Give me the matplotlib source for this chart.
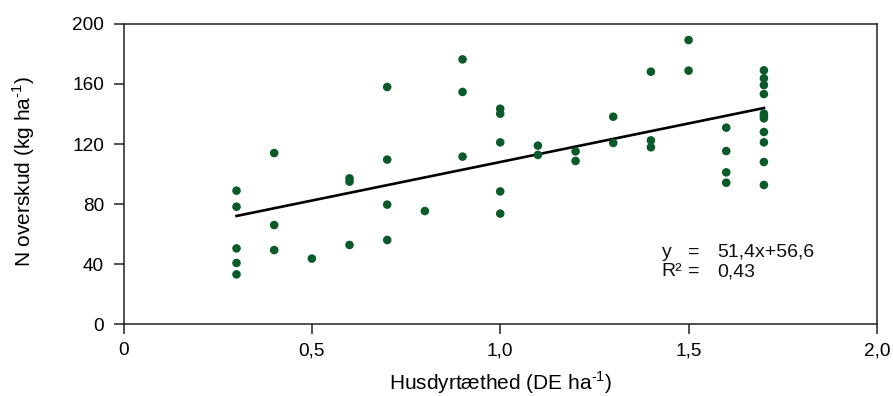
import matplotlib
matplotlib.use("Agg")
import matplotlib.pyplot as plt
import numpy as np

plt.rcParams["font.family"] = ["Liberation Sans", "DejaVu Sans"]
plt.rcParams["mathtext.fontset"] = "custom"
plt.rcParams["mathtext.rm"] = "Liberation Sans"
plt.rcParams["mathtext.sf"] = "Liberation Sans"

# Livestock density (DE/ha) and N surplus (kg/ha) per farm
density = [0.3, 0.3, 0.3, 0.3, 0.3,
           0.4, 0.4, 0.4,
           0.5,
           0.6, 0.6, 0.6,
           0.7, 0.7, 0.7, 0.7,
           0.8,
           0.9, 0.9, 0.9,
           1.0, 1.0, 1.0, 1.0, 1.0,
           1.1, 1.1,
           1.2, 1.2,
           1.3, 1.3,
           1.4, 1.4, 1.4,
           1.5, 1.5,
           1.6, 1.6, 1.6, 1.6,
           1.7, 1.7, 1.7, 1.7, 1.7, 1.7, 1.7, 1.7, 1.7, 1.7, 1.7]
surplus = [88.9, 78.2, 50.4, 40.7, 33.1,
           114.0, 66.0, 49.3,
           43.6,
           97.1, 94.9, 52.7,
           158.0, 109.6, 79.6, 56.0,
           75.3,
           176.4, 154.7, 111.6,
           143.5, 140.2, 121.1, 88.4, 73.6,
           118.9, 112.7,
           115.1, 108.7,
           138.2, 120.7,
           168.2, 122.4, 117.8,
           189.3, 168.9,
           130.9, 115.3, 101.1, 94.2,
           169.1, 163.8, 159.3, 153.3, 140.2, 138.6, 137.1, 128.0, 121.1, 108.0, 92.7]

# Fitted regression y = 51,4x + 56,6 (R² = 0,43)
slope = 51.4
intercept = 56.6
r_squared = "0,43"

x_ticks = [0, 0.5, 1.0, 1.5, 2.0]
x_labels = ["0", "0,5", "1,0", "1,5", "2,0"]
y_ticks = [0, 40, 80, 120, 160, 200]

fig = plt.figure(figsize=(8.93, 3.96), dpi=100)
ax = fig.add_axes([0.1383, 0.1818, 0.8437, 0.7576])

ax.scatter(density, surplus, s=38, color="#0a5a2a", edgecolors="none", zorder=3)

fit_x = np.array([min(density), max(density)])
ax.plot(fit_x, slope * fit_x + intercept, color="black", lw=1.9, zorder=2)

ax.set_xlim(0, 2.0)
ax.set_ylim(0, 200)
ax.set_xticks(x_ticks)
ax.set_xticklabels(x_labels)
ax.set_yticks(y_ticks)

for sp in ax.spines.values():
    sp.set_linewidth(1.1)
    sp.set_color("#222222")

ax.tick_params(axis="both", direction="out", labelsize=13.7, width=1.1, color="#222222")
ax.tick_params(axis="y", length=7.5, pad=6.5)
ax.tick_params(axis="x", length=7, pad=6)

ax.set_xlabel("Husdyrtæthed (DE ha$^{\\text{-1}}$)", fontsize=15)
ax.set_ylabel("N overskud (kg ha$^{\\text{-1}}$)", fontsize=15)
ax.xaxis.set_label_coords(0.5, -0.15)
ax.yaxis.set_label_coords(-0.115, 0.508)

# Regression equation, laid out in aligned columns
txt_kw = dict(fontsize=14, va="center", ha="left", color="#111111")
ax.text(1.429, 47.8, "y", **txt_kw)
ax.text(1.498, 47.8, "=", **txt_kw)
ax.text(1.575, 47.8, f"{slope:.1f}x+{intercept:.1f}".replace(".", ","), **txt_kw)
ax.text(1.429, 34.8, "R²", **txt_kw)
ax.text(1.498, 34.8, "=", **txt_kw)
ax.text(1.575, 34.8, r_squared, **txt_kw)

fig.savefig("out.png", dpi=100)
